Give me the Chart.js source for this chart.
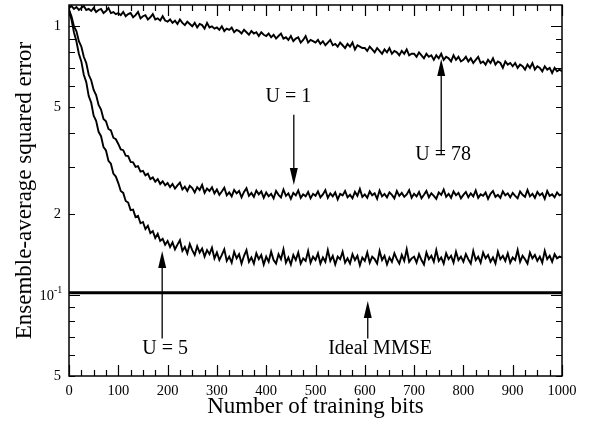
<!DOCTYPE html>
<html>
<head>
<meta charset="utf-8">
<script src="https://cdn.jsdelivr.net/npm/chart.js@4.4.1/dist/chart.umd.min.js"></script>
<style>
  html, body { margin: 0; padding: 0; background: #fff; }
  canvas { display: block; }
</style>
</head>
<body>
<canvas id="mseChart" width="598" height="426"></canvas>
<script>
// training bits (x) and ensemble-average squared error for each case
const bits = [
  0, 5, 10, 15, 20, 25, 30, 35, 40, 45, 50, 55, 60, 65, 70, 75, 80, 85, 90, 95,
  100, 105, 110, 115, 120, 125, 130, 135, 140, 145, 150, 155, 160, 165, 170, 175, 180, 185, 190, 195,
  200, 205, 210, 215, 220, 225, 230, 235, 240, 245, 250, 255, 260, 265, 270, 275, 280, 285, 290, 295,
  300, 305, 310, 315, 320, 325, 330, 335, 340, 345, 350, 355, 360, 365, 370, 375, 380, 385, 390, 395,
  400, 405, 410, 415, 420, 425, 430, 435, 440, 445, 450, 455, 460, 465, 470, 475, 480, 485, 490, 495,
  500, 505, 510, 515, 520, 525, 530, 535, 540, 545, 550, 555, 560, 565, 570, 575, 580, 585, 590, 595,
  600, 605, 610, 615, 620, 625, 630, 635, 640, 645, 650, 655, 660, 665, 670, 675, 680, 685, 690, 695,
  700, 705, 710, 715, 720, 725, 730, 735, 740, 745, 750, 755, 760, 765, 770, 775, 780, 785, 790, 795,
  800, 805, 810, 815, 820, 825, 830, 835, 840, 845, 850, 855, 860, 865, 870, 875, 880, 885, 890, 895,
  900, 905, 910, 915, 920, 925, 930, 935, 940, 945, 950, 955, 960, 965, 970, 975, 980, 985, 990, 995,
  1000
];

const u78 = [
  1.17, 1.19, 1.16, 1.18, 1.15, 1.17, 1.19, 1.15, 1.16, 1.14, 1.17, 1.13, 1.15, 1.16, 1.12, 1.14, 1.17, 1.12, 1.13, 1.11,
  1.12, 1.10, 1.13, 1.09, 1.11, 1.12, 1.08, 1.10, 1.13, 1.07, 1.09, 1.10, 1.06, 1.08, 1.11, 1.06, 1.07, 1.05, 1.09, 1.05,
  1.04, 1.06, 1.03, 1.05, 1.02, 1.06, 1.03, 1.01, 1.04, 1.02, 1.00, 1.03, 0.99, 1.02, 1.01, 0.98, 1.03, 0.99, 1.00, 0.98,
  0.99, 0.97, 1.00, 0.96, 0.98, 0.97, 0.99, 0.95, 0.97, 0.96, 0.94, 0.97, 0.95, 0.93, 0.96, 0.94, 0.95, 0.92, 0.95, 0.93,
  0.92, 0.94, 0.91, 0.93, 0.90, 0.92, 0.94, 0.90, 0.91, 0.89, 0.92, 0.88, 0.90, 0.91, 0.87, 0.89, 0.92, 0.87, 0.89, 0.88,
  0.87, 0.89, 0.86, 0.88, 0.85, 0.87, 0.89, 0.85, 0.86, 0.84, 0.87, 0.85, 0.83, 0.86, 0.84, 0.87, 0.82, 0.85, 0.84, 0.83,
  0.83, 0.81, 0.84, 0.82, 0.80, 0.83, 0.81, 0.79, 0.82, 0.80, 0.83, 0.79, 0.81, 0.80, 0.78, 0.81, 0.79, 0.82, 0.78, 0.79,
  0.79, 0.77, 0.80, 0.78, 0.76, 0.79, 0.77, 0.78, 0.75, 0.78, 0.76, 0.79, 0.75, 0.77, 0.76, 0.74, 0.78, 0.75, 0.77, 0.74,
  0.75, 0.77, 0.74, 0.76, 0.73, 0.75, 0.77, 0.73, 0.74, 0.72, 0.75, 0.73, 0.76, 0.72, 0.74, 0.73, 0.70, 0.74, 0.72, 0.73,
  0.71, 0.73, 0.70, 0.72, 0.71, 0.69, 0.72, 0.70, 0.73, 0.69, 0.71, 0.70, 0.68, 0.71, 0.69, 0.70, 0.67, 0.70, 0.68, 0.69,
  0.68
];

const u1 = [
  1.15, 1.09, 1.00, 0.96, 0.88, 0.84, 0.77, 0.73, 0.66, 0.63, 0.58, 0.555, 0.51, 0.49, 0.452, 0.443, 0.415, 0.41, 0.385, 0.38,
  0.365, 0.348, 0.346, 0.330, 0.329, 0.313, 0.312, 0.300, 0.302, 0.288, 0.290, 0.279, 0.283, 0.270, 0.274, 0.264, 0.270, 0.259, 0.265, 0.256,
  0.261, 0.252, 0.259, 0.249, 0.256, 0.262, 0.247, 0.253, 0.244, 0.255, 0.250, 0.241, 0.252, 0.246, 0.257, 0.240, 0.249, 0.244, 0.252, 0.239,
  0.247, 0.236, 0.243, 0.251, 0.235, 0.241, 0.233, 0.246, 0.239, 0.244, 0.231, 0.242, 0.250, 0.234, 0.240, 0.232, 0.245, 0.237, 0.243, 0.230,
  0.241, 0.233, 0.238, 0.229, 0.244, 0.236, 0.231, 0.247, 0.234, 0.239, 0.228, 0.240, 0.235, 0.245, 0.230, 0.237, 0.233, 0.242, 0.229, 0.238,
  0.234, 0.243, 0.231, 0.237, 0.246, 0.230, 0.239, 0.233, 0.241, 0.227, 0.238, 0.235, 0.244, 0.231, 0.236, 0.229, 0.242, 0.234, 0.248, 0.232,
  0.237, 0.230, 0.243, 0.235, 0.239, 0.228, 0.245, 0.233, 0.238, 0.231, 0.241, 0.236, 0.229, 0.244, 0.234, 0.240, 0.232, 0.237, 0.246, 0.230,
  0.238, 0.233, 0.242, 0.229, 0.236, 0.244, 0.231, 0.239, 0.234, 0.228, 0.241, 0.236, 0.247, 0.232, 0.238, 0.230, 0.243, 0.235, 0.240, 0.229,
  0.236, 0.242, 0.231, 0.239, 0.233, 0.245, 0.230, 0.237, 0.234, 0.241, 0.228, 0.238, 0.244, 0.232, 0.236, 0.230, 0.243, 0.235, 0.239, 0.231,
  0.240, 0.234, 0.229, 0.243, 0.236, 0.232, 0.246, 0.233, 0.238, 0.230, 0.242, 0.235, 0.239, 0.228, 0.244, 0.234, 0.237, 0.231, 0.241, 0.235,
  0.237
];

const u5 = [
  1.15, 1.06, 0.95, 0.88, 0.79, 0.74, 0.66, 0.62, 0.55, 0.52, 0.465, 0.445, 0.405, 0.39, 0.355, 0.345, 0.316, 0.308, 0.283, 0.276,
  0.261, 0.244, 0.240, 0.224, 0.221, 0.207, 0.208, 0.195, 0.197, 0.185, 0.187, 0.176, 0.181, 0.170, 0.173, 0.163, 0.169, 0.159, 0.162, 0.154,
  0.159, 0.151, 0.157, 0.148, 0.154, 0.160, 0.146, 0.151, 0.143, 0.155, 0.147, 0.141, 0.152, 0.144, 0.149, 0.139, 0.147, 0.142, 0.150, 0.137,
  0.144, 0.135, 0.141, 0.148, 0.134, 0.139, 0.132, 0.145, 0.137, 0.142, 0.131, 0.140, 0.147, 0.133, 0.138, 0.131, 0.143, 0.136, 0.141, 0.130,
  0.139, 0.133, 0.145, 0.135, 0.131, 0.142, 0.136, 0.148, 0.132, 0.138, 0.130, 0.141, 0.135, 0.144, 0.131, 0.137, 0.134, 0.146, 0.132, 0.139,
  0.135, 0.143, 0.131, 0.138, 0.133, 0.147, 0.134, 0.140, 0.130, 0.139, 0.136, 0.145, 0.132, 0.137, 0.131, 0.142, 0.135, 0.140, 0.129, 0.138,
  0.134, 0.144, 0.132, 0.139, 0.136, 0.131, 0.146, 0.135, 0.140, 0.130, 0.138, 0.133, 0.143, 0.136, 0.131, 0.141, 0.134, 0.148, 0.133, 0.137,
  0.139, 0.132, 0.142, 0.135, 0.130, 0.144, 0.136, 0.140, 0.133, 0.147, 0.134, 0.138, 0.131, 0.143, 0.136, 0.140, 0.132, 0.145, 0.135, 0.139,
  0.133, 0.142, 0.136, 0.131, 0.146, 0.135, 0.139, 0.132, 0.144, 0.137, 0.141, 0.133, 0.138, 0.131, 0.145, 0.136, 0.140, 0.134, 0.143, 0.132,
  0.138, 0.135, 0.147, 0.133, 0.140, 0.136, 0.131, 0.144, 0.137, 0.141, 0.134, 0.139, 0.132, 0.146, 0.136, 0.140, 0.133, 0.142, 0.137, 0.139,
  0.138
];

// ideal MMSE level (flat line)
const mmseBits = [0, 1000];
const mmse = [0.102, 0.102];

// y ticks: all marks, which are long (decades), and their labels
const yTickValues = [0.05, 0.06, 0.07, 0.08, 0.09, 0.1, 0.2, 0.3, 0.4, 0.5, 0.6, 0.7, 0.8, 0.9, 1];
const yMajor = [0.1, 1];
const yLabels = { 1: '1', 0.5: '5', 0.2: '2', 0.05: '5' };

// annotations: text + arrow, in data coordinates
const notes = [
  { text: 'U = 1', tx: 445, ty: 0.548, ax: 456, from: 0.469, to: 0.257 },
  { text: 'U = 78', tx: 759, ty: 0.333, ax: 755, from: 0.335, to: 0.755 },
  { text: 'U = 5', tx: 195, ty: 0.063, ax: 189, from: 0.069, to: 0.146 },
  { text: 'Ideal MMSE', tx: 631, ty: 0.063, ax: 606, from: 0.069, to: 0.095 }
];

const serif = "'Liberation Serif', 'Times New Roman', serif";

const toPoints = (xs, ys) => xs.map((b, i) => ({ x: b, y: ys[i] }));

function curve(data, width) {
  return {
    data: data,
    borderColor: '#000',
    borderWidth: width,
    pointRadius: 0,
    tension: 0,
    fill: false
  };
}

// frame, inward ticks, 10^-1 label and the arrow annotations
const decorations = {
  id: 'decorations',
  afterDatasetsDraw(chart) {
    const { ctx, chartArea: a, scales: { x, y } } = chart;
    ctx.save();
    ctx.strokeStyle = '#000';
    ctx.lineWidth = 1.5;
    ctx.strokeRect(a.left, a.top, a.right - a.left, a.bottom - a.top);

    ctx.lineWidth = 1.2;
    ctx.beginPath();
    for (let v = 0; v <= 1000; v += 25) {
      const px = Math.round(x.getPixelForValue(v)) + 0.5;
      const len = v % 100 === 0 ? 11 : 6;
      ctx.moveTo(px, a.bottom); ctx.lineTo(px, a.bottom - len);
      ctx.moveTo(px, a.top); ctx.lineTo(px, a.top + len);
    }
    yTickValues.forEach(v => {
      const py = Math.round(y.getPixelForValue(v)) + 0.5;
      const len = yMajor.includes(v) ? 11 : 6;
      ctx.moveTo(a.left, py); ctx.lineTo(a.left + len, py);
      ctx.moveTo(a.right, py); ctx.lineTo(a.right - len, py);
    });
    ctx.stroke();

    // 10^-1 label with superscript
    const py = y.getPixelForValue(0.1);
    ctx.fillStyle = '#000';
    ctx.textBaseline = 'middle';
    ctx.font = '10px ' + serif;
    ctx.textAlign = 'left';
    ctx.fillText('-1', 54, py - 5);
    ctx.font = '14.5px ' + serif;
    ctx.textAlign = 'right';
    ctx.fillText('10', 54, py + 1);

    // arrows and their captions
    ctx.font = '20px ' + serif;
    ctx.textAlign = 'center';
    ctx.lineWidth = 1.3;
    notes.forEach(n => {
      const ax = x.getPixelForValue(n.ax);
      const y0 = y.getPixelForValue(n.from);
      const y1 = y.getPixelForValue(n.to);
      const dir = y1 > y0 ? 1 : -1;
      const head = 17;
      ctx.beginPath();
      ctx.moveTo(ax, y0);
      ctx.lineTo(ax, y1 - dir * head);
      ctx.stroke();
      ctx.beginPath();
      ctx.moveTo(ax, y1);
      ctx.lineTo(ax - 4, y1 - dir * head);
      ctx.lineTo(ax + 4, y1 - dir * head);
      ctx.closePath();
      ctx.fill();
      ctx.fillText(n.text, x.getPixelForValue(n.tx), y.getPixelForValue(n.ty));
    });
    ctx.restore();
  }
};

const noEdgePadding = s => {
  s.paddingTop = 0;
  s.paddingBottom = 0;
  s.paddingLeft = 0;
  s.paddingRight = 0;
};

new Chart(document.getElementById('mseChart'), {
  type: 'line',
  data: {
    datasets: [
      curve(toPoints(bits, u78), 1.9),
      curve(toPoints(bits, u1), 1.9),
      curve(toPoints(bits, u5), 1.9),
      curve(toPoints(mmseBits, mmse), 3.2)
    ]
  },
  options: {
    responsive: false,
    animation: false,
    layout: { padding: { left: 0, right: 36, top: 5, bottom: 0 } },
    plugins: {
      legend: { display: false },
      tooltip: { enabled: false }
    },
    scales: {
      x: {
        type: 'linear',
        min: 0,
        max: 1000,
        grid: { display: false, drawTicks: false },
        border: { display: false },
        ticks: {
          stepSize: 100,
          padding: 6,
          color: '#000',
          maxRotation: 0,
          font: { family: serif, size: 14.5 },
          callback: v => String(v)
        },
        title: {
          display: true,
          text: 'Number of training bits',
          color: '#000',
          font: { family: serif, size: 23 },
          padding: { top: 0, bottom: 5 }
        },
        afterFit: s => { s.height = 50; noEdgePadding(s); }
      },
      y: {
        type: 'logarithmic',
        min: 0.05,
        max: 1.2,
        grid: { display: false, drawTicks: false },
        border: { display: false },
        afterBuildTicks: s => {
          s.ticks = yTickValues.map(v => ({ value: v }));
        },
        ticks: {
          padding: 8,
          color: '#000',
          autoSkip: false,
          font: { family: serif, size: 14.5 },
          callback: v => (yLabels[v] !== undefined ? yLabels[v] : null)
        },
        title: {
          display: true,
          text: 'Ensemble-average squared error',
          color: '#000',
          font: { family: serif, size: 23 },
          padding: { top: 11, bottom: 0 }
        },
        afterFit: s => { s.width = 69; noEdgePadding(s); }
      }
    }
  },
  plugins: [decorations]
});
</script>
</body>
</html>
